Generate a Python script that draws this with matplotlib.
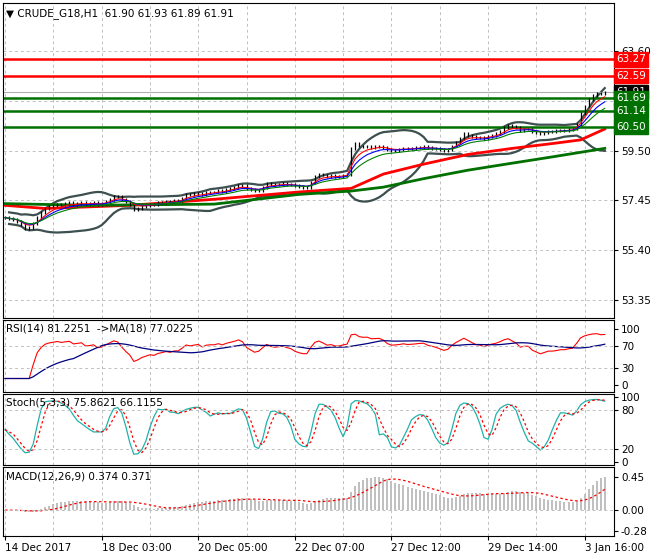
import matplotlib
matplotlib.use("Agg")
import matplotlib.pyplot as plt
import numpy as np
import pandas as pd

closes = [56.74,56.7,56.65,56.6,56.45,56.3,56.35,56.5,56.75,56.95,57.12,
 57.2,57.25,57.3,57.28,57.32,57.35,57.3,57.33,57.36,57.3,
 57.32,57.35,57.3,57.32,57.4,57.5,57.62,57.6,57.5,57.4,
 57.3,57.07,57.12,57.2,57.25,57.3,57.28,57.35,57.38,57.42,
 57.4,57.45,57.45,57.55,57.7,57.68,57.72,57.75,57.7,57.78,
 57.8,57.8,57.85,57.83,57.9,57.95,58.0,58.08,58.05,57.95,
 57.9,57.85,57.88,58.0,58.16,58.12,58.1,58.12,58.15,58.12,
 58.1,58.05,58.02,58.0,58.0,58.2,58.45,58.54,58.5,58.45,
 58.48,58.45,58.45,58.5,58.54,59.6,59.79,59.7,59.68,59.7,
 59.65,59.68,59.7,59.65,59.55,59.5,59.52,59.55,59.6,59.58,
 59.6,59.62,59.65,59.66,59.62,59.6,59.58,59.55,59.52,59.55,
 59.7,59.85,60.0,60.2,60.15,60.1,60.05,60.04,60.0,60.1,
 60.15,60.2,60.3,60.45,60.55,60.5,60.45,60.35,60.4,60.4,
 60.3,60.25,60.2,60.25,60.3,60.3,60.32,60.35,60.35,60.38,
 60.4,60.6,61.05,61.35,61.6,61.8,61.88,61.85,61.91]

ma_slow_idx = [0,10,31,52,73,86,94,104,115,126,136,143,149]
ma_slow_val = [57.25,57.12,57.25,57.5,57.8,57.95,58.54,58.95,59.35,59.6,59.8,59.95,60.4]
ma_long_idx = [0,21,52,73,86,94,104,115,126,136,149]
ma_long_val = [57.32,57.25,57.3,57.7,57.84,58.0,58.35,58.7,58.99,59.25,59.6]

res_levels = [63.27, 62.59]
sup_levels = [61.69, 61.14, 60.50]
last_price = 61.91
price_ticks = [63.60, 59.50, 57.45, 55.40, 53.35]
date_idx = [0,24,48,72,96,120,144]
date_labels = ["14 Dec 2017","18 Dec 03:00","20 Dec 05:00","22 Dec 07:00",
               "27 Dec 12:00","29 Dec 14:00","3 Jan 16:00"]

c = pd.Series(closes)
n = len(c)
x = np.arange(n)
op = c.shift(1).fillna(c.iloc[0])
hi = np.maximum(op, c) + 0.06
lo = np.minimum(op, c) - 0.06

fs = 7.5
fig = plt.figure(figsize=(6.6,5.6), dpi=100)
L, W = 3/660, 611/660
def mk(top, bot):
    return fig.add_axes([L, 1-bot/560, W, (bot-top)/560])
ax = mk(3,318); ar = mk(320,392); ast = mk(394,465); am = mk(467,536)
xl = (-0.5, 151.3)
for a in (ax, ar, ast, am):
    a.set_xlim(*xl)
    a.yaxis.tick_right()
    a.tick_params(axis='y', labelsize=fs, length=3, pad=2)
    a.tick_params(axis='x', length=0, labelbottom=False)
    for gx in range(0, 152, 12):
        a.axvline(gx, color='#c0c0c0', lw=0.7, ls=(0,(3,3)), zorder=0)
    for s in a.spines.values(): s.set_linewidth(0.8)

# main
ax.set_ylim(52.6, 65.6)
ax.set_yticks(price_ticks)
ax.set_yticklabels([f"{v:.2f}" for v in price_ticks])
for v in price_ticks + [61.55]:
    ax.axhline(v, color='#c0c0c0', lw=0.7, ls=(0,(3,3)), zorder=0)
ax.vlines(x, lo, hi, color='black', lw=0.9, zorder=3)
mid = c.rolling(20, min_periods=2).mean()
sd = c.rolling(20, min_periods=2).std(ddof=0).clip(lower=0.12)
for b in (mid+2*sd, mid-2*sd):
    ax.plot(x, b, color='#3d4f4f', lw=1.6, zorder=2)
ax.plot(x, c.ewm(span=5).mean(), color='red', lw=0.8, zorder=4)
ax.plot(x, c.ewm(span=8).mean(), color='blue', lw=0.8, zorder=4)
ax.plot(x, c.ewm(span=13).mean(), color='green', lw=0.8, zorder=4)
ax.plot(ma_slow_idx, ma_slow_val, color='#ff0000', lw=2, zorder=2)
ax.plot(ma_long_idx, ma_long_val, color='#007000', lw=2, zorder=2)
ax.axhline(last_price, color='#b0b0b0', lw=0.8)
for v in res_levels:
    ax.axhline(v, color='#ff0000', lw=1.8)
for v in sup_levels:
    ax.axhline(v, color='#007000', lw=1.8)
def tag(v, fc):
    ax.text(1.003, v, f"{v:.2f}", transform=ax.get_yaxis_transform(), color='white',
            fontsize=fs, va='center', ha='left',
            bbox=dict(boxstyle='square,pad=0.2', fc=fc, ec=fc), zorder=10, clip_on=False)
for v in res_levels: tag(v, '#ff0000')
tag(last_price, 'black')
for v in sup_levels: tag(v, '#007000')
ax.text(0.005, 0.985, "\u25bc CRUDE_G18,H1  61.90 61.93 61.89 61.91",
        transform=ax.transAxes, fontsize=fs, va='top')

# RSI
d = c.diff()
up = d.clip(lower=0).ewm(alpha=1/14, min_periods=6).mean()
dn = (-d.clip(upper=0)).ewm(alpha=1/14, min_periods=6).mean()
rsi = (100 - 100/(1+up/dn.replace(0, 1e-9))).bfill()
ar.plot(x, rsi, color='red', lw=0.8)
ar.plot(x, rsi.rolling(18, min_periods=1).mean(), color='#000080', lw=0.9)
ar.set_ylim(-12, 115)
ar.set_yticks([100,70,30,0])
for v in (70,30): ar.axhline(v, color='#c0c0c0', lw=0.7, ls=(0,(3,3)))
ar.text(0.005, 0.95, "RSI(14) 81.2251  ->MA(18) 77.0225", transform=ar.transAxes, fontsize=fs, va='top')

# Stoch
hh = pd.Series(hi).rolling(5, min_periods=1).max()
ll = pd.Series(lo).rolling(5, min_periods=1).min()
k = 100*(c-ll).rolling(3, min_periods=1).sum()/(hh-ll).rolling(3, min_periods=1).sum()
dd = k.rolling(3, min_periods=1).mean()
ast.plot(x, k, color='#20b2aa', lw=0.9)
ast.plot(x, dd, color='red', lw=0.9, ls=(0,(2,2)))
ast.set_ylim(-4, 104)
ast.set_yticks([100,80,20,0])
for v in (80,20): ast.axhline(v, color='#c0c0c0', lw=0.7, ls=(0,(3,3)))
ast.text(0.005, 0.95, "Stoch(5,3,3) 75.8621 66.1155", transform=ast.transAxes, fontsize=fs, va='top')

# MACD
macd = c.ewm(span=12).mean() - c.ewm(span=26).mean()
sig = macd.rolling(9, min_periods=1).mean()
am.bar(x, macd, width=0.5, color='#c0c0c0')
am.plot(x, sig, color='red', lw=0.9, ls=(0,(2,2)))
am.set_ylim(-0.355, 0.59)
am.set_yticks([0.45,0.0,-0.28])
am.set_yticklabels(["0.45","0.00","-0.28"])
am.axhline(0, color='#c0c0c0', lw=0.7, ls=(0,(3,3)))
am.text(0.005, 0.93, "MACD(12,26,9) 0.374 0.371", transform=am.transAxes, fontsize=fs, va='top')
am.set_xticks(date_idx)
am.set_xticklabels(date_labels, ha='left', fontsize=fs)
am.tick_params(axis='x', labelbottom=True, length=3, pad=2)

fig.savefig("out.png", dpi=100)
